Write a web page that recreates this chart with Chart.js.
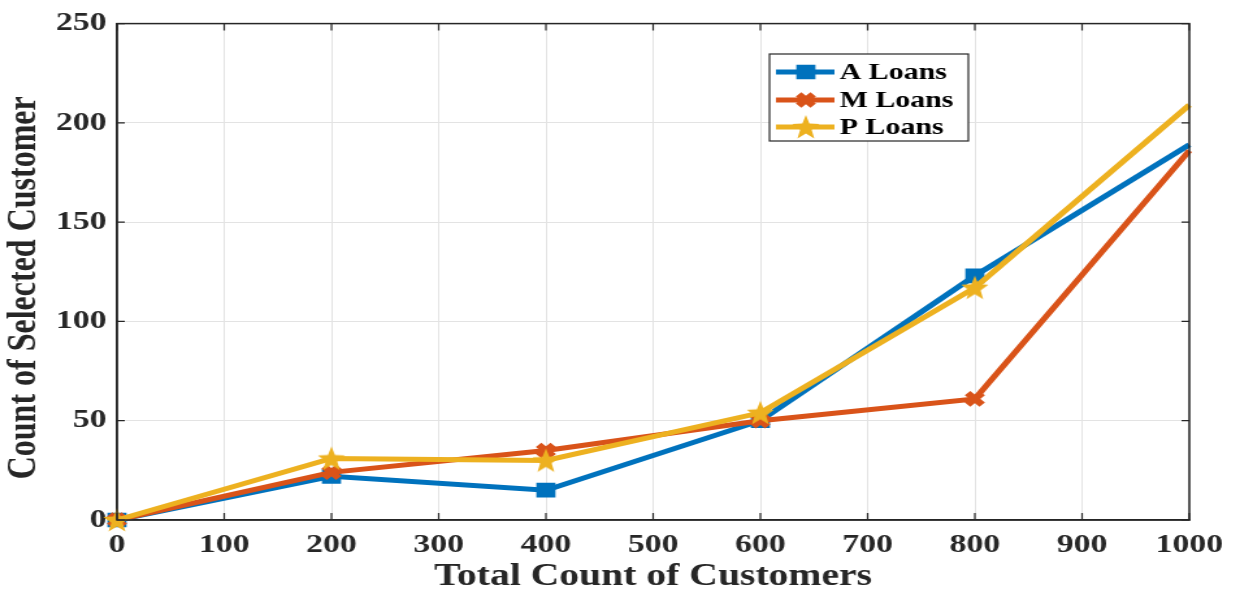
<!DOCTYPE html>
<html>
<head>
<meta charset="utf-8">
<title>Selected customers by loan type</title>
<script src="https://cdn.jsdelivr.net/npm/chart.js@4.4.1/dist/chart.umd.min.js"></script>
<style>
  html, body { margin: 0; padding: 0; background: #fff; }
  /* the original figure is stretched horizontally, so the canvas is drawn narrow and scaled up */
  #chart { display: block; width: 1240px; height: 592px; }
</style>
</head>
<body>
<canvas id="chart" width="954" height="592" style="width:1240px;height:592px"></canvas>
<script>
// data
const totalCustomers = [0, 200, 400, 600, 800, 1000];
const aLoans = [0, 22, 15, 50, 123, 189];
const mLoans = [0, 24, 35, 50, 61, 186];
const pLoans = [0, 31, 30, 54, 117, 209];
const seriesNames = ['A Loans', 'M Loans', 'P Loans'];
const xTicks = [0, 100, 200, 300, 400, 500, 600, 700, 800, 900, 1000];
const yTicks = [0, 50, 100, 150, 200, 250];

const BLUE = '#0072BD';
const RED = '#D95319';
const YELLOW = '#EDB120';
const AXIS = '#262626';
const FONT = "'Liberation Serif', 'Times New Roman', serif";

// filled five point star for the P series (Chart.js 'star' is only strokes)
function makeStar(w, h, color) {
  const c = document.createElement('canvas');
  c.width = w;
  c.height = h;
  const g = c.getContext('2d');
  const cx = w / 2, cy = h / 2 + 1;
  g.beginPath();
  for (let i = 0; i < 10; i++) {
    const r = i % 2 === 0 ? 1 : 0.42;
    const a = -Math.PI / 2 + i * Math.PI / 5;
    const px = cx + Math.cos(a) * r * w / 2;
    const py = cy + Math.sin(a) * r * h / 2;
    if (i === 0) g.moveTo(px, py); else g.lineTo(px, py);
  }
  g.closePath();
  g.fillStyle = color;
  g.fill();
  return c;
}
const starImg = makeStar(22, 26, YELLOW);

function toPoints(values) {
  return totalCustomers.map((x, i) => ({ x: x, y: values[i] }));
}

// markers at the right edge are hidden by the axis in the original
function markerSize(r) {
  return ctx => (ctx.dataIndex === totalCustomers.length - 1 ? 0 : r);
}

// box round the axes and inward ticks, like the MATLAB figure
const framePlugin = {
  id: 'frame',
  afterDraw(chart) {
    const { ctx, chartArea: a, scales } = chart;
    ctx.save();
    ctx.strokeStyle = AXIS;
    ctx.lineWidth = 1.5;
    ctx.strokeRect(a.left, a.top, a.right - a.left, a.bottom - a.top);
    ctx.lineWidth = 1.2;
    ctx.beginPath();
    xTicks.forEach(v => {
      const px = scales.x.getPixelForValue(v);
      ctx.moveTo(px, a.bottom); ctx.lineTo(px, a.bottom - 7);
      ctx.moveTo(px, a.top); ctx.lineTo(px, a.top + 7);
    });
    yTicks.forEach(v => {
      const py = scales.y.getPixelForValue(v);
      ctx.moveTo(a.left, py); ctx.lineTo(a.left + 6, py);
      ctx.moveTo(a.right, py); ctx.lineTo(a.right - 6, py);
    });
    ctx.stroke();
    ctx.restore();
  }
};

// legend box inside the plot, line with marker through it
const boxLegend = {
  id: 'boxLegend',
  afterDraw(chart) {
    const ctx = chart.ctx;
    const x0 = 592, y0 = 54, w = 153, h = 87;
    ctx.save();
    ctx.fillStyle = '#fff';
    ctx.fillRect(x0, y0, w, h);
    ctx.strokeStyle = AXIS;
    ctx.lineWidth = 1.2;
    ctx.strokeRect(x0, y0, w, h);
    const rows = [72, 100, 127];
    const radii = [9, 8, 11];
    chart.data.datasets.forEach((ds, i) => {
      const y = rows[i];
      ctx.strokeStyle = ds.borderColor;
      ctx.fillStyle = ds.borderColor;
      ctx.lineWidth = ds.borderWidth;
      ctx.beginPath();
      ctx.moveTo(x0 + 5, y);
      ctx.lineTo(x0 + 50, y);
      ctx.stroke();
      ctx.lineWidth = ds.pointBorderWidth;
      Chart.helpers.drawPoint(ctx, {
        pointStyle: ds.pointStyle,
        radius: radii[i],
        borderWidth: ds.pointBorderWidth,
        rotation: 0
      }, x0 + 28, y);
      ctx.fillStyle = '#000';
      ctx.font = `bold 23px ${FONT}`;
      ctx.textBaseline = 'middle';
      ctx.fillText(ds.label, x0 + 54, y + 1);
    });
    ctx.restore();
  }
};

new Chart(document.getElementById('chart'), {
  type: 'line',
  data: {
    datasets: [
      {
        label: seriesNames[0],
        data: toPoints(aLoans),
        borderColor: BLUE,
        backgroundColor: BLUE,
        borderWidth: 5,
        pointStyle: 'rect',
        pointRadius: markerSize(9),
        pointBorderWidth: 2,
        pointBackgroundColor: BLUE,
        pointBorderColor: BLUE,
        order: 3,
        clip: false
      },
      {
        label: seriesNames[1],
        data: toPoints(mLoans),
        borderColor: RED,
        backgroundColor: RED,
        borderWidth: 5,
        pointStyle: 'crossRot',
        pointRadius: markerSize(8),
        pointBorderWidth: 6,
        pointBackgroundColor: RED,
        pointBorderColor: RED,
        order: 2,
        clip: false
      },
      {
        label: seriesNames[2],
        data: toPoints(pLoans),
        borderColor: YELLOW,
        backgroundColor: YELLOW,
        borderWidth: 5,
        pointStyle: starImg,
        pointRadius: markerSize(11),
        pointBorderWidth: 0,
        order: 1,
        clip: false
      }
    ]
  },
  options: {
    responsive: false,
    devicePixelRatio: 1,
    animation: false,
    layout: { padding: { top: 17, right: 39, left: 0, bottom: 0 } },
    plugins: {
      legend: { display: false },
      tooltip: { enabled: false }
    },
    scales: {
      x: {
        type: 'linear',
        min: 0,
        max: 1000,
        afterBuildTicks: s => { s.ticks = xTicks.map(v => ({ value: v })); },
        afterFit: s => { s.height = 72; },
        grid: { color: '#e3e3e3', lineWidth: 1, drawTicks: false },
        border: { color: AXIS, width: 1.5 },
        ticks: {
          padding: 10,
          color: AXIS,
          maxRotation: 0,
          callback: v => String(v),
          font: { family: FONT, size: 26, weight: 'bold' }
        },
        title: {
          display: true,
          text: 'Total Count of Customers',
          color: AXIS,
          padding: 0,
          font: { family: FONT, size: 30.5, weight: 'bold', lineHeight: 1 }
        }
      },
      y: {
        min: 0,
        max: 250,
        afterBuildTicks: s => { s.ticks = yTicks.map(v => ({ value: v })); },
        afterFit: s => { s.width = 90; },
        grid: { color: '#e3e3e3', lineWidth: 1, drawTicks: false },
        border: { color: AXIS, width: 1.5 },
        ticks: {
          padding: 8,
          color: AXIS,
          font: { family: FONT, size: 26, weight: 'bold' }
        },
        title: {
          display: true,
          // trailing spaces push the label a little lower, as in the original
          text: 'Count of Selected Customer    ',
          color: AXIS,
          padding: 0,
          font: { family: FONT, size: 32, weight: 'bold' }
        }
      }
    }
  },
  plugins: [framePlugin, boxLegend]
});
</script>
</body>
</html>
